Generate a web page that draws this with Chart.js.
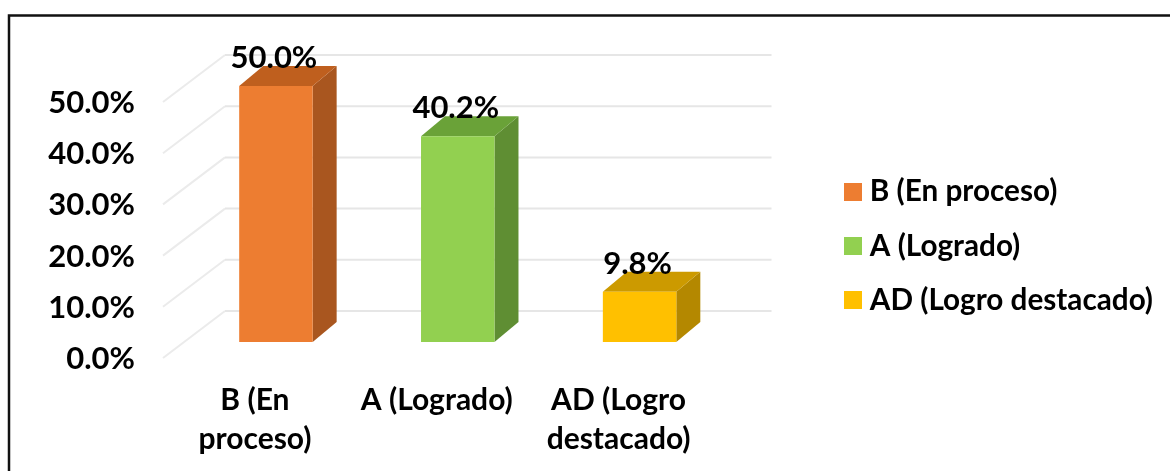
<!DOCTYPE html>
<html>
<head>
<meta charset="utf-8">
<style>
  html, body { margin: 0; padding: 0; background: #fff; }
  canvas { display: block; }
</style>
<script src="https://cdn.jsdelivr.net/npm/chart.js@4/dist/chart.umd.min.js"></script>
</head>
<body>
<canvas id="chart" width="1170" height="471"></canvas>
<script>
const categories = [['B (En', 'proceso)'], 'A (Logrado)', ['AD (Logro', 'destacado)']];
const legendNames = ['B (En proceso)', 'A (Logrado)', 'AD (Logro destacado)'];
const percentages = [50.0, 40.2, 9.8];
const frontColors = ['#ED7D31', '#92D050', '#FFC000'];
const sideColors = ['#A9561F', '#5F8E33', '#B48800'];
const topColors = ['#BF5F1E', '#6AA238', '#CC9A00'];

const fontName = 'Lato, "Open Sans", sans-serif';
const wallDepth = { x: 62, y: -47 };   // floor front edge to back wall
const barShift = { x: 21, y: -16 };    // bars stand part way into the floor
const barDepth = { x: 24, y: -20 };

function poly(ctx, pts, color) {
  ctx.fillStyle = color;
  ctx.beginPath();
  pts.forEach((p, i) => i ? ctx.lineTo(p[0], p[1]) : ctx.moveTo(p[0], p[1]));
  ctx.closePath();
  ctx.fill();
}

// legend swatch with a blank left margin, chart.js centres it on a narrow box
// so the text can sit closer than its fixed half-font gap
function swatch(color) {
  const c = document.createElement('canvas');
  c.width = 25;
  c.height = 18;
  const g = c.getContext('2d');
  g.fillStyle = color;
  g.fillRect(7, 0, 18, 18);
  return c;
}

const fake3d = {
  id: 'fake3d',
  beforeDraw(chart) {
    // outer frame, only top and left are inside the crop
    const ctx = chart.ctx;
    ctx.save();
    ctx.strokeStyle = '#111';
    ctx.lineWidth = 2.5;
    ctx.beginPath();
    ctx.moveTo(9, 471);
    ctx.lineTo(9, 15.5);
    ctx.lineTo(1170, 15.5);
    ctx.stroke();
    ctx.restore();
  },
  afterLayout(chart) {
    const legend = chart.legend;
    legend.left = 819.5;
    legend.right = 1170;
    legend.top = 152.5;
    legend.bottom = 471;
  },
  beforeDatasetsDraw(chart) {
    const ctx = chart.ctx;
    const yScale = chart.scales.y;
    const area = chart.chartArea;
    ctx.save();
    ctx.lineWidth = 2;
    yScale.ticks.forEach((tick, i) => {
      const y = yScale.getPixelForTick(i);
      ctx.strokeStyle = '#EBEBEB';
      ctx.beginPath();
      ctx.moveTo(area.left - 1, y);
      ctx.lineTo(area.left - 1 + wallDepth.x, y + wallDepth.y);
      ctx.stroke();
      ctx.strokeStyle = '#E6E6E6';
      ctx.beginPath();
      ctx.moveTo(area.left - 1 + wallDepth.x, y + wallDepth.y);
      ctx.lineTo(area.right + wallDepth.x, y + wallDepth.y);
      ctx.stroke();
    });
    ctx.restore();

    ctx.save();
    ctx.translate(barShift.x, barShift.y);
    const dx = barDepth.x, dy = barDepth.y;
    chart.getDatasetMeta(0).data.forEach((bar, i) => {
      const l = bar.x - bar.width / 2, r = bar.x + bar.width / 2;
      poly(ctx, [[r, bar.y], [r + dx, bar.y + dy], [r + dx, bar.base + dy], [r, bar.base]], sideColors[i]);
      poly(ctx, [[l, bar.y], [l + dx, bar.y + dy], [r + dx, bar.y + dy], [r, bar.y]], topColors[i]);
    });
  },
  afterDatasetsDraw(chart) {
    const ctx = chart.ctx;
    ctx.restore();
    ctx.save();
    ctx.font = 'bold 31px ' + fontName;
    ctx.fillStyle = '#000';
    ctx.textAlign = 'center';
    ctx.textBaseline = 'middle';
    chart.getDatasetMeta(0).data.forEach((bar, i) => {
      ctx.fillText(percentages[i].toFixed(1) + '%', bar.x + barShift.x - 2, bar.y + barShift.y - 28);
    });
    ctx.restore();
  }
};

new Chart(document.getElementById('chart'), {
  type: 'bar',
  plugins: [fake3d],
  data: {
    labels: categories,
    datasets: [{
      data: percentages,
      backgroundColor: frontColors,
      borderWidth: 0,
      barPercentage: 0.404,
      categoryPercentage: 1,
      clip: false
    }]
  },
  options: {
    responsive: false,
    animation: false,
    layout: { padding: { top: 102, left: 0, right: 224, bottom: 0 } },
    plugins: {
      tooltip: { enabled: false },
      legend: {
        position: 'right',
        align: 'start',
        onClick: null,
        labels: {
          usePointStyle: true,
          pointStyleWidth: 11,
          boxHeight: 18,
          padding: 24.5,
          color: '#000',
          font: { family: fontName, size: 29.7, weight: 'bold' },
          generateLabels: () => legendNames.map((name, i) => ({
            text: name,
            fillStyle: frontColors[i],
            pointStyle: swatch(frontColors[i]),
            lineWidth: 0,
            index: i
          }))
        }
      }
    },
    scales: {
      x: {
        grid: { display: false },
        border: { display: false },
        afterFit(scale) { scale.height = 113; },
        ticks: {
          autoSkip: false,
          maxRotation: 0,
          padding: 15,
          color: '#000',
          font: { family: fontName, size: 30, weight: 'bold', lineHeight: 1.3 }
        }
      },
      y: {
        min: 0,
        max: 50,
        grid: { display: false },
        border: { display: false },
        afterFit(scale) { scale.width = 164; },
        ticks: {
          stepSize: 10,
          padding: 21,
          labelOffset: 1,
          color: '#000',
          font: { family: fontName, size: 31, weight: 'bold' },
          callback: value => value.toFixed(1) + '%'
        }
      }
    }
  }
});
</script>
</body>
</html>
